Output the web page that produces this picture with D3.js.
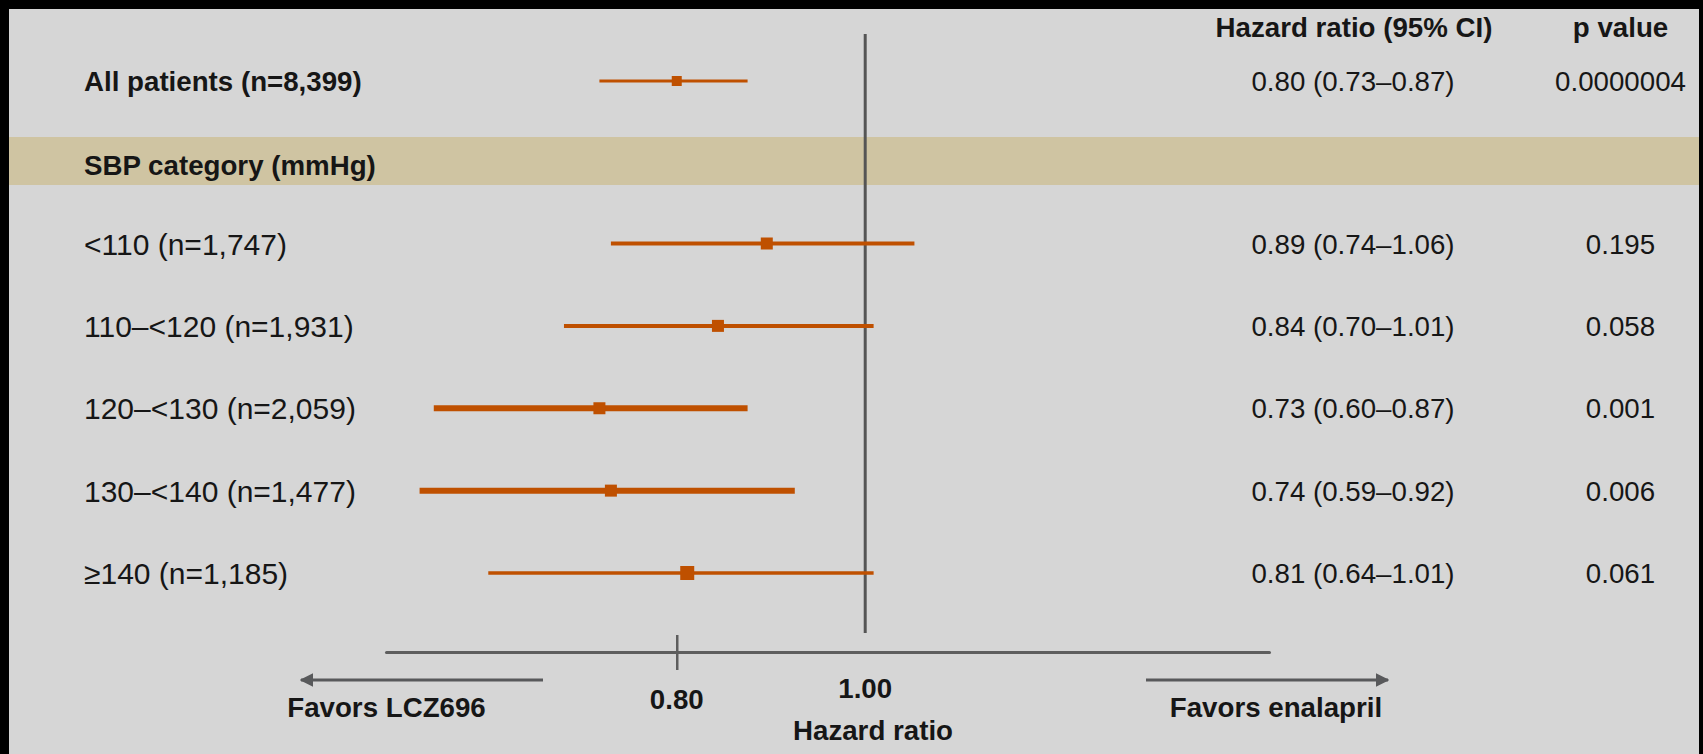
<!DOCTYPE html>
<html>
<head>
<meta charset="utf-8">
<script src="https://cdn.jsdelivr.net/npm/d3@7"></script>
<style>
  html, body { margin: 0; padding: 0; background: #000; }
  svg { display: block; }
  text { font-family: "Liberation Sans", Arial, sans-serif; fill: #161616; }
</style>
</head>
<body>
<svg id="chart"></svg>
<script>
// Data
const overallLabel = "All patients (n=8,399)";
const overall = { hr: 0.80, lo: 0.73, hi: 0.87, p: "0.0000004" };

const groupTitle = "SBP category (mmHg)";
const groups = ["<110 (n=1,747)", "110\u2013<120 (n=1,931)", "120\u2013<130 (n=2,059)",
                "130\u2013<140 (n=1,477)", "\u2265140 (n=1,185)"];
const hr = [0.89, 0.84, 0.73, 0.74, 0.81];
const lo = [0.74, 0.70, 0.60, 0.59, 0.64];
const hi = [1.06, 1.01, 0.87, 0.92, 1.01];
const pValues = ["0.195", "0.058", "0.001", "0.006", "0.061"];

const tickValues = [0.80, 1.00];

// line weights / marker sizes per row as drawn in the original
const ciStroke = [4, 4, 6, 6, 3.5];
const boxSize = [12, 12, 12, 12, 14];

const width = 1703;
const height = 754;
const orange = "#bf5000";
const grey = "#5e5e5e";

const svg = d3.select("#chart")
    .attr("width", width)
    .attr("height", height);

// grey panel inside the black frame
svg.append("rect")
    .attr("x", 9).attr("y", 9)
    .attr("width", 1690).attr("height", height - 9)
    .attr("fill", "#d6d6d6");

// log scale for hazard ratio
const x = d3.scaleLog()
    .domain([0.567, 1.613])
    .range([386, 1269]);

const y = d3.scalePoint()
    .domain(groups)
    .range([243.5, 573]);
const yOverall = 81;

const fmt = d3.format(".2f");
const ciText = (h, l, u) => `${fmt(h)} (${fmt(l)}\u2013${fmt(u)})`;

// tan band behind the category heading
svg.append("rect")
    .attr("x", 9).attr("y", 137)
    .attr("width", 1690).attr("height", 48)
    .attr("fill", "#cfc4a2");

// column headers
svg.append("text")
    .attr("x", 1354).attr("y", 37)
    .attr("text-anchor", "middle")
    .attr("font-size", 27.7).attr("font-weight", "bold")
    .text("Hazard ratio (95% CI)");
svg.append("text")
    .attr("x", 1620.5).attr("y", 37)
    .attr("text-anchor", "middle")
    .attr("font-size", 27.7).attr("font-weight", "bold")
    .text("p value");

// reference line at HR = 1
svg.append("line")
    .attr("x1", x(1)).attr("x2", x(1))
    .attr("y1", 34).attr("y2", 633)
    .attr("stroke", "#555").attr("stroke-width", 3);

// overall row
svg.append("text")
    .attr("x", 84).attr("y", yOverall + 10)
    .attr("font-size", 27.7).attr("font-weight", "bold")
    .text(overallLabel);
svg.append("line")
    .attr("x1", x(overall.lo)).attr("x2", x(overall.hi))
    .attr("y1", yOverall).attr("y2", yOverall)
    .attr("stroke", orange).attr("stroke-width", 3);
svg.append("rect")
    .attr("x", x(overall.hr) - 5).attr("y", yOverall - 5)
    .attr("width", 10).attr("height", 10)
    .attr("fill", orange);
svg.append("text")
    .attr("x", 1353).attr("y", yOverall + 10)
    .attr("text-anchor", "middle")
    .attr("font-size", 27.7)
    .text(ciText(overall.hr, overall.lo, overall.hi));
svg.append("text")
    .attr("x", 1620.5).attr("y", yOverall + 10)
    .attr("text-anchor", "middle")
    .attr("font-size", 27.7)
    .text(overall.p);

// category heading
svg.append("text")
    .attr("x", 84).attr("y", 175)
    .attr("font-size", 27.7).attr("font-weight", "bold")
    .text(groupTitle);

// subgroup rows
const rows = svg.append("g")
    .selectAll("g")
    .data(groups)
    .enter()
    .append("g")
    .attr("transform", d => `translate(0,${y(d)})`);

rows.append("text")
    .attr("x", 84).attr("y", 11)
    .attr("font-size", 30)
    .text(d => d);

rows.append("line")
    .attr("x1", (d, i) => x(lo[i]))
    .attr("x2", (d, i) => x(hi[i]))
    .attr("stroke", orange)
    .attr("stroke-width", (d, i) => ciStroke[i]);

rows.append("rect")
    .attr("x", (d, i) => x(hr[i]) - boxSize[i] / 2)
    .attr("y", (d, i) => -boxSize[i] / 2)
    .attr("width", (d, i) => boxSize[i])
    .attr("height", (d, i) => boxSize[i])
    .attr("fill", orange);

rows.append("text")
    .attr("x", 1353).attr("y", 10)
    .attr("text-anchor", "middle")
    .attr("font-size", 27.7)
    .text((d, i) => ciText(hr[i], lo[i], hi[i]));

rows.append("text")
    .attr("x", 1620.5).attr("y", 10)
    .attr("text-anchor", "middle")
    .attr("font-size", 27.7)
    .text((d, i) => pValues[i]);

// x axis
const axis = svg.append("g")
    .attr("transform", "translate(0,652)")
    .call(d3.axisBottom(x)
        .tickValues([tickValues[0]])
        .tickSizeOuter(0)
        .tickFormat(""));

axis.select(".domain")
    .attr("stroke", grey).attr("stroke-width", 3)
    .attr("stroke-linecap", "round");
axis.selectAll(".tick line")
    .attr("y1", -17).attr("y2", 18)
    .attr("stroke", grey).attr("stroke-width", 2.5);

// tick labels (1.00 sits higher, under the reference line)
svg.selectAll(".ticklab")
    .data(tickValues)
    .enter()
    .append("text")
    .attr("class", "ticklab")
    .attr("x", d => x(d))
    .attr("y", d => d === 1 ? 698 : 709)
    .attr("text-anchor", "middle")
    .attr("font-size", 27.7).attr("font-weight", "bold")
    .text(d => fmt(d));

svg.append("text")
    .attr("x", 873).attr("y", 740)
    .attr("text-anchor", "middle")
    .attr("font-size", 27.7).attr("font-weight", "bold")
    .text("Hazard ratio");

// direction arrows
const defs = svg.append("defs");
defs.append("marker")
    .attr("id", "head")
    .attr("viewBox", "0 0 10 10")
    .attr("refX", 9).attr("refY", 5)
    .attr("markerWidth", 4.5).attr("markerHeight", 4.5)
    .attr("markerUnits", "strokeWidth")
    .attr("orient", "auto")
    .append("path")
    .attr("d", "M0,0L10,5L0,10Z")
    .attr("fill", "#58595b");

svg.append("line")
    .attr("x1", 543).attr("x2", 301)
    .attr("y1", 680).attr("y2", 680)
    .attr("stroke", "#58595b").attr("stroke-width", 3)
    .attr("marker-end", "url(#head)");
svg.append("line")
    .attr("x1", 1146).attr("x2", 1388)
    .attr("y1", 680).attr("y2", 680)
    .attr("stroke", "#58595b").attr("stroke-width", 3)
    .attr("marker-end", "url(#head)");

svg.append("text")
    .attr("x", 386.5).attr("y", 717)
    .attr("text-anchor", "middle")
    .attr("font-size", 27.7).attr("font-weight", "bold")
    .text("Favors LCZ696");
svg.append("text")
    .attr("x", 1276).attr("y", 717)
    .attr("text-anchor", "middle")
    .attr("font-size", 27.7).attr("font-weight", "bold")
    .text("Favors enalapril");
</script>
</body>
</html>
